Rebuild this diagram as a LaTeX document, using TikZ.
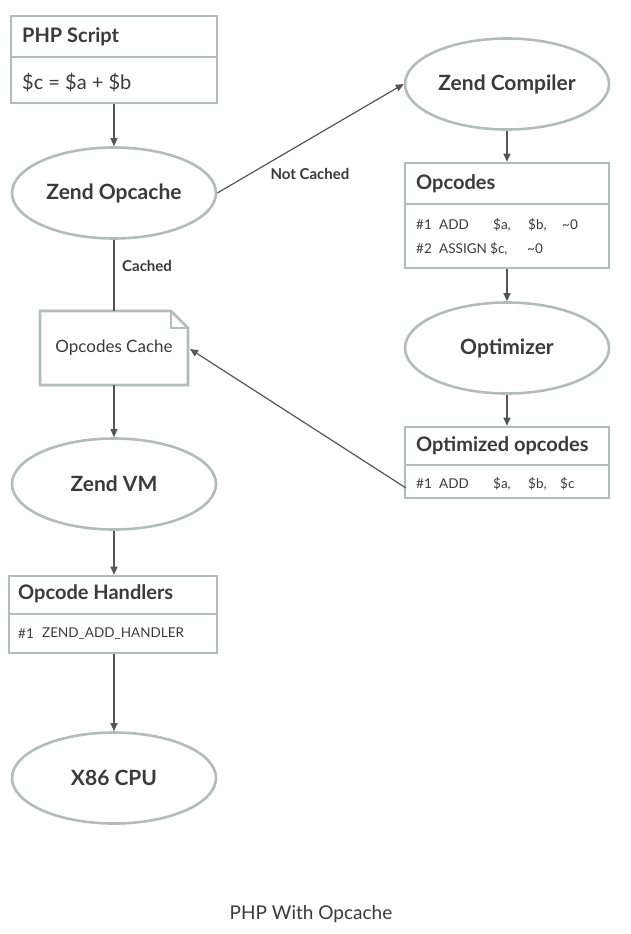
\documentclass[tikz,border=0pt]{standalone}
\usepackage{fontspec}
\setmainfont{Lato}
\usetikzlibrary{arrows.meta,shapes.geometric}
\definecolor{bord}{HTML}{B5BBBB}
\definecolor{txt}{HTML}{3A3A3A}
\definecolor{conn}{HTML}{555555}
\tikzset{
  ell/.style={ellipse, draw=bord, line width=2.6pt, minimum width=204pt, minimum height=91pt, font=\fontsize{21}{24}\selectfont\bfseries, text=txt},
  boxframe/.style={draw=bord, line width=2.6pt, rectangle, inner sep=0pt},
  divider/.style={draw=bord, line width=2.6pt},
  hdr/.style={anchor=west, font=\fontsize{20}{23}\selectfont\bfseries, text=txt, inner sep=0pt},
  bodytxt/.style={anchor=west, font=\fontsize{20}{23}\selectfont, text=txt, inner sep=0pt},
  small/.style={anchor=west, font=\fontsize{13.5}{16}\selectfont, text=txt, inner sep=0pt},
  lbl/.style={font=\fontsize{15}{18}\selectfont\bfseries, text=txt, inner sep=0pt},
  conn/.style={draw=conn, line width=1.2pt, -{Triangle[length=8pt,width=7pt]}},
  plain/.style={draw=conn, line width=1.2pt},
}
\begin{document}
\begin{tikzpicture}[x=1pt,y=-1pt]
\useasboundingbox (0,0) rectangle (631,934);

% PHP Script box
\node[boxframe, minimum width=206pt, minimum height=87pt] (php) at (114,59.5) {};
\draw[divider] (11,57) -- (217,57);
\node[hdr] (phph) at (22,37) {PHP Script};
\node[bodytxt] (phpb) at (22,82) {\$c = \$a + \$b};

% Zend Opcache
\node[ell] (opc) at (114,193) {Zend Opcache};

% Opcodes Cache note
\draw[draw=bord, line width=2.6pt, line join=miter] (40,311) -- (171,311) -- (188,328) -- (188,385) -- (40,385) -- cycle;
\draw[draw=bord, line width=1.6pt] (171,311) -- (171,328) -- (188,328);
\node[inner sep=0pt, minimum width=148pt, minimum height=74pt] (note) at (114,348) {};
\node[font=\fontsize{17}{20}\selectfont, text=txt] (notet) at (114,348) {Opcodes Cache};

% Zend VM
\node[ell] (vm) at (114,484) {Zend VM};

% Opcode Handlers
\node[boxframe, minimum width=208pt, minimum height=77pt] (oh) at (113,614.5) {};
\draw[divider] (9,614) -- (217,614);
\node[hdr] (ohh) at (18,594) {Opcode Handlers};
\node[small] (oh1) at (18,634) {\#1};
\node[small] (oh2) at (42,634) {ZEND\_ADD\_HANDLER};

% X86 CPU
\node[ell] (cpu) at (114,778) {X86 CPU};

% Zend Compiler
\node[ell] (zc) at (507,84) {Zend Compiler};

% Opcodes box
\node[boxframe, minimum width=204pt, minimum height=105pt] (ops) at (507,215.5) {};
\draw[divider] (405,204) -- (609,204);
\node[hdr] (opsh) at (416,184) {Opcodes};
\node[small] (a1) at (416,225) {\#1};
\node[small] (a2) at (439,225) {ADD};
\node[small] (a3) at (493,225) {\$a,};
\node[small] (a4) at (528,225) {\$b,};
\node[small] (a5) at (562,225) {\textasciitilde0};
\node[small] (b1) at (416,249) {\#2};
\node[small] (b2) at (439,249) {ASSIGN};
\node[small] (b3) at (490,249) {\$c,};
\node[small] (b4) at (527,249) {\textasciitilde0};

% Optimizer
\node[ell] (opt) at (507,348) {Optimizer};

% Optimized opcodes
\node[boxframe, minimum width=204pt, minimum height=71pt] (oo) at (507,462.5) {};
\draw[divider] (405,465) -- (609,465);
\node[hdr] (ooh) at (416,446) {Optimized opcodes};
\node[small] (c1) at (416,484) {\#1};
\node[small] (c2) at (439,484) {ADD};
\node[small] (c3) at (493,484) {\$a,};
\node[small] (c4) at (528,484) {\$b,};
\node[small] (c5) at (560,484) {\$c};

% connectors
\draw[conn] (php.south) -- (opc.north);
\draw[plain] (opc.south) -- (note.north);
\node[lbl, anchor=west] (cachedl) at (122,266) {Cached};
\draw[conn] (note.south) -- (vm.north);
\draw[conn] (vm.south) -- (vm.south |- oh.north);
\draw[conn] (vm.south |- oh.south) -- (cpu.north);
\draw[conn] (opc.east) -- (zc.west);
\node[lbl] (ncl) at (310,174) {Not Cached};
\draw[conn] (zc.south) -- (ops.north);
\draw[conn] (ops.south) -- (opt.north);
\draw[conn] (opt.south) -- (oo.north);
\coordinate (ooin) at (406,488);
\coordinate (notein) at (190,349);
\draw[conn] (ooin) -- (notein);

% caption
\node[font=\fontsize{19}{22}\selectfont, text=txt] (cap) at (311,914) {PHP With Opcache};
\end{tikzpicture}
\end{document}
